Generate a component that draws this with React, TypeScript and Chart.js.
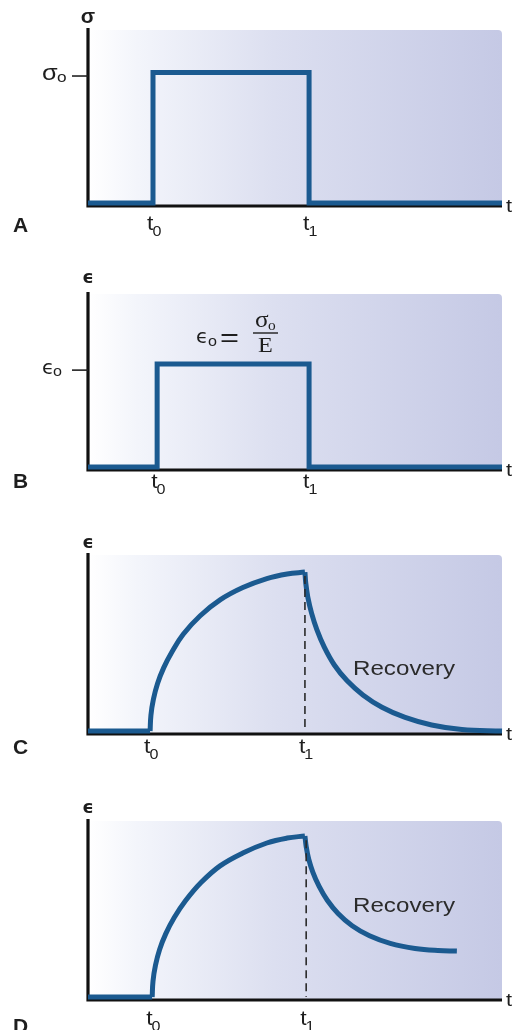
import React, { useEffect, useRef } from "react";
import { Chart, registerables } from "chart.js";
Chart.register(...registerables);

// ---------- data ----------
const panelLetters = ["A", "B", "C", "D"];
const yAxisTitles = ["σ", "ϵ", "ϵ", "ϵ"];
const timeTickLabels = ["t", "t"];
const timeTickSubs = ["0", "1"];

// time ticks (t0, t1) per panel, x in 0..100
const ticksA = [15.7, 53.4];
const ticksB = [16.7, 53.4];
const ticksC = [15.0, 52.4];
const ticksD = [15.5, 52.7];

// A: stress pulse
const stressX = [0, 15.7, 15.7, 53.4, 53.4, 100];
const stressY = [0, 0, 75.4, 75.4, 0, 0];
const stressTick = 73.4;

// B: elastic strain pulse
const elasticX = [0, 16.7, 16.7, 53.4, 53.4, 100];
const elasticY = [0, 0, 59.5, 59.5, 0, 0];
const elasticTick = 56;

// C: viscoelastic creep and full recovery
const cBaseX = [0, 15.0];
const cBaseY = [0, 0];
const cRiseX = [15.0, 15.2, 15.8, 16.8, 18.3, 20.3, 23.0, 27.1, 31.9, 37.4, 43.2, 48.1, 52.4];
const cRiseY = [0, 9, 18, 27, 36, 45, 55, 65.5, 74.5, 81.5, 86.6, 89.2, 90.3];
const cRecX = [52.4, 52.6, 53.1, 54.0, 55.3, 57.1, 59.5, 62.6, 66.4, 71.0, 76.6, 83.0, 90.3, 100];
const cRecY = [90.3, 84, 76, 67, 57.5, 47.5, 37.5, 28.5, 20.5, 13.5, 7.7, 3.4, 0.8, 0];

// D: creep and partial recovery
const dBaseX = [0, 15.5];
const dBaseY = [0, 0];
const dRiseX = [15.5, 15.7, 16.3, 17.3, 18.8, 20.8, 23.5, 27.3, 31.9, 37.4, 43.2, 48.1, 52.4];
const dRiseY = [0, 9, 18, 27, 36, 45, 54.5, 65, 74.5, 81.8, 87.5, 90.3, 91.5];
const dRecX = [52.4, 52.7, 53.3, 54.3, 55.8, 57.8, 60.4, 63.8, 68.0, 73.0, 79.0, 84.5, 89.1];
const dRecY = [91.5, 85.5, 78.5, 71, 63, 55, 47.5, 40.5, 34.8, 30.5, 27.6, 26.4, 26.1];

const recoveryLabel = "Recovery";

// ---------- style ----------
const BLUE = "#1b5a90";
const INK = "#1e1e1e";
const SANS = "'Liberation Sans', 'DejaVu Sans', Arial, sans-serif";
const GREEK = "'DejaVu Sans', 'Liberation Sans', sans-serif";
const SERIF = "'Liberation Serif', 'DejaVu Serif', serif";
const SX = 1.15;

const pts = (xs: number[], ys: number[]) => xs.map((x, i) => ({ x, y: ys[i] }));

function txt(ctx: CanvasRenderingContext2D, s: string, x: number, y: number, font: string, align = "left", sx = SX, color = INK) {
  ctx.save();
  ctx.font = font;
  ctx.fillStyle = color;
  ctx.textBaseline = "alphabetic";
  ctx.textAlign = "left";
  const w = ctx.measureText(s).width * sx;
  const x0 = align === "center" ? x - w / 2 : align === "right" ? x - w : x;
  ctx.translate(x0, y);
  ctx.scale(sx, 1);
  ctx.fillText(s, 0, 0);
  ctx.restore();
  return w;
}

type Panel = {
  idx: number;
  top: number;
  height: number;
  areaTop: number;
  y0: number;
  tBase: number;
  letterBase: number;
  titleBase: number;
  ticks: number[];
  datasets: any[];
  yTick?: { value: number; main: string };
  extra?: (ctx: CanvasRenderingContext2D, chart: any, off: number) => void;
};

const line = (data: any[], curve: boolean) => ({
  data,
  showLine: true,
  borderColor: BLUE,
  borderWidth: 5,
  pointRadius: 0,
  fill: false,
  clip: false,
  tension: curve ? 0.4 : 0,
  cubicInterpolationMode: "default",
  borderJoinStyle: "miter",
  borderCapStyle: "butt",
});

const dashed = (x: number, y: number) => ({
  data: [{ x, y }, { x, y: 0 }],
  showLine: true,
  borderColor: "#2a2a2a",
  borderWidth: 1.6,
  borderDash: [8, 5],
  pointRadius: 0,
  clip: false,
});

const recoveryText = (base: number) => (ctx: CanvasRenderingContext2D, chart: any, off: number) => {
  ctx.save();
  ctx.font = `20px ${SANS}`;
  const w = ctx.measureText(recoveryLabel).width;
  ctx.restore();
  txt(ctx, recoveryLabel, 353, base - off, `20px ${SANS}`, "left", 102 / w, "#2b2b2b");
};

const panels: Panel[] = [
  {
    idx: 0, top: 0, height: 245, areaTop: 30, y0: 203, tBase: 230, letterBase: 232, titleBase: 23,
    ticks: ticksA, datasets: [line(pts(stressX, stressY), false)],
    yTick: { value: stressTick, main: "σ" },
  },
  {
    idx: 1, top: 245, height: 250, areaTop: 294, y0: 467, tBase: 488, letterBase: 488, titleBase: 283,
    ticks: ticksB, datasets: [line(pts(elasticX, elasticY), false)],
    yTick: { value: elasticTick, main: "ϵ" },
    extra: (ctx, chart, off) => {
      // ϵo = σo / E
      txt(ctx, "ϵ", 196, 343 - off, `19px ${GREEK}`, "left", 1.05);
      txt(ctx, "o", 208, 346 - off, `14px ${SANS}`);
      txt(ctx, "=", 220, 346 - off, `26px ${SANS}`, "left", 1.25);
      ctx.save();
      ctx.strokeStyle = INK;
      ctx.lineWidth = 1.4;
      ctx.beginPath();
      ctx.moveTo(253, 333 - off);
      ctx.lineTo(278, 333 - off);
      ctx.stroke();
      ctx.restore();
      txt(ctx, "σ", 255, 327 - off, `23px ${SERIF}`, "left", 1.1);
      txt(ctx, "o", 268, 330 - off, `14px ${SERIF}`, "left", 1.1);
      txt(ctx, "E", 258, 352 - off, `22px ${SERIF}`, "left", 1.1);
    },
  },
  {
    idx: 2, top: 495, height: 265, areaTop: 555, y0: 731, tBase: 753, letterBase: 754, titleBase: 548,
    ticks: ticksC,
    datasets: [
      dashed(ticksC[1], 88),
      line(pts(cBaseX, cBaseY), false),
      line(pts(cRiseX, cRiseY), true),
      line(pts(cRecX, cRecY), true),
    ],
    extra: recoveryText(675),
  },
  {
    idx: 3, top: 760, height: 270, areaTop: 821, y0: 997, tBase: 1025, letterBase: 1033, titleBase: 813,
    ticks: ticksD,
    datasets: [
      dashed(ticksD[1], 89),
      line(pts(dBaseX, dBaseY), false),
      line(pts(dRiseX, dRiseY), true),
      line(pts(dRecX, dRecY), true),
    ],
    extra: recoveryText(912),
  },
];

function PanelChart({ p }: { p: Panel }) {
  const ref = useRef<HTMLCanvasElement | null>(null);
  useEffect(() => {
    const canvas = ref.current;
    if (!canvas) return;
    const off = p.top;
    const plugin = {
      id: "decor" + p.idx,
      beforeDatasetsDraw(chart: any) {
        const ctx = chart.ctx as CanvasRenderingContext2D;
        const { left, right, top, bottom } = chart.chartArea;
        ctx.save();
        const g = ctx.createLinearGradient(left, 0, right, 0);
        g.addColorStop(0, "#ffffff");
        g.addColorStop(0.12, "#f3f5fb");
        g.addColorStop(0.45, "#dcdff0");
        g.addColorStop(1, "#c5c9e5");
        ctx.fillStyle = g;
        ctx.beginPath();
        (ctx as any).roundRect(left, top, right - left, bottom - top + 2, [0, 4, 0, 0]);
        ctx.fill();
        // axes
        ctx.strokeStyle = "#111";
        ctx.lineWidth = 3.2;
        ctx.lineCap = "butt";
        ctx.beginPath();
        ctx.moveTo(left, top - 2);
        ctx.lineTo(left, bottom + 4.5);
        ctx.moveTo(left - 1.6, bottom + 3);
        ctx.lineTo(right, bottom + 3);
        ctx.stroke();
        ctx.restore();
      },
      afterDatasetsDraw(chart: any) {
        const ctx = chart.ctx as CanvasRenderingContext2D;
        const xs = chart.scales.x;
        const ys = chart.scales.y;
        const { left, bottom } = chart.chartArea;
        // axis title
        if (p.idx === 0) {
          txt(ctx, yAxisTitles[p.idx], left, p.titleBase - off, `bold 20px ${SANS}`, "center", 1.05);
        } else {
          txt(ctx, yAxisTitles[p.idx], left, p.titleBase - off, `bold 17px ${GREEK}`, "center", 1.05);
        }
        // right t
        txt(ctx, "t", 506, bottom + 9, `19px ${SANS}`, "left", SX);
        // time ticks
        p.ticks.forEach((v, i) => {
          const px = xs.getPixelForValue(v);
          const w = txt(ctx, timeTickLabels[i], px - 6, p.tBase - off, `20px ${SANS}`);
          txt(ctx, timeTickSubs[i], px - 6 + w - 1, p.tBase - off + 6, `14px ${SANS}`);
        });
        // panel letter
        txt(ctx, panelLetters[p.idx], 13, p.letterBase - off, `bold 20px ${SANS}`, "left", 1.05);
        // y tick
        if (p.yTick) {
          const py = ys.getPixelForValue(p.yTick.value);
          ctx.save();
          ctx.strokeStyle = "#222";
          ctx.lineWidth = 1.6;
          ctx.beginPath();
          ctx.moveTo(72, py);
          ctx.lineTo(left, py);
          ctx.stroke();
          ctx.restore();
          if (p.idx === 0) {
            txt(ctx, "σ", 42, py + 4, `22px ${SANS}`);
            txt(ctx, "o", 57, py + 6, `15px ${SANS}`);
          } else {
            txt(ctx, "ϵ", 42, py + 4, `19px ${GREEK}`, "left", 1.05);
            txt(ctx, "o", 53, py + 6, `14px ${SANS}`);
          }
        }
        if (p.extra) p.extra(ctx, chart, off);
      },
    };
    const chart = new Chart(canvas, {
      type: "scatter",
      data: { datasets: p.datasets },
      options: {
        responsive: false,
        animation: false,
        events: [],
        layout: {
          padding: { left: 88, right: 11, top: p.areaTop - p.top, bottom: p.top + p.height - p.y0 },
        },
        scales: {
          x: { type: "linear", min: 0, max: 100, display: false },
          y: { type: "linear", min: 0, max: 100, display: false },
        },
        plugins: { legend: { display: false }, tooltip: { enabled: false }, title: { display: false } },
      } as any,
      plugins: [plugin],
    });
    return () => chart.destroy();
  }, [p]);
  return (
    <canvas
      ref={ref}
      width={513}
      height={p.height}
      style={{ position: "absolute", left: 0, top: p.top, width: 513, height: p.height }}
    />
  );
}

export default function App() {
  return (
    <div style={{ position: "absolute", left: 0, top: 0, width: 513, height: 1030, background: "#ffffff", overflow: "hidden" }}>
      {panels.map((p) => (
        <PanelChart key={p.idx} p={p} />
      ))}
    </div>
  );
}
